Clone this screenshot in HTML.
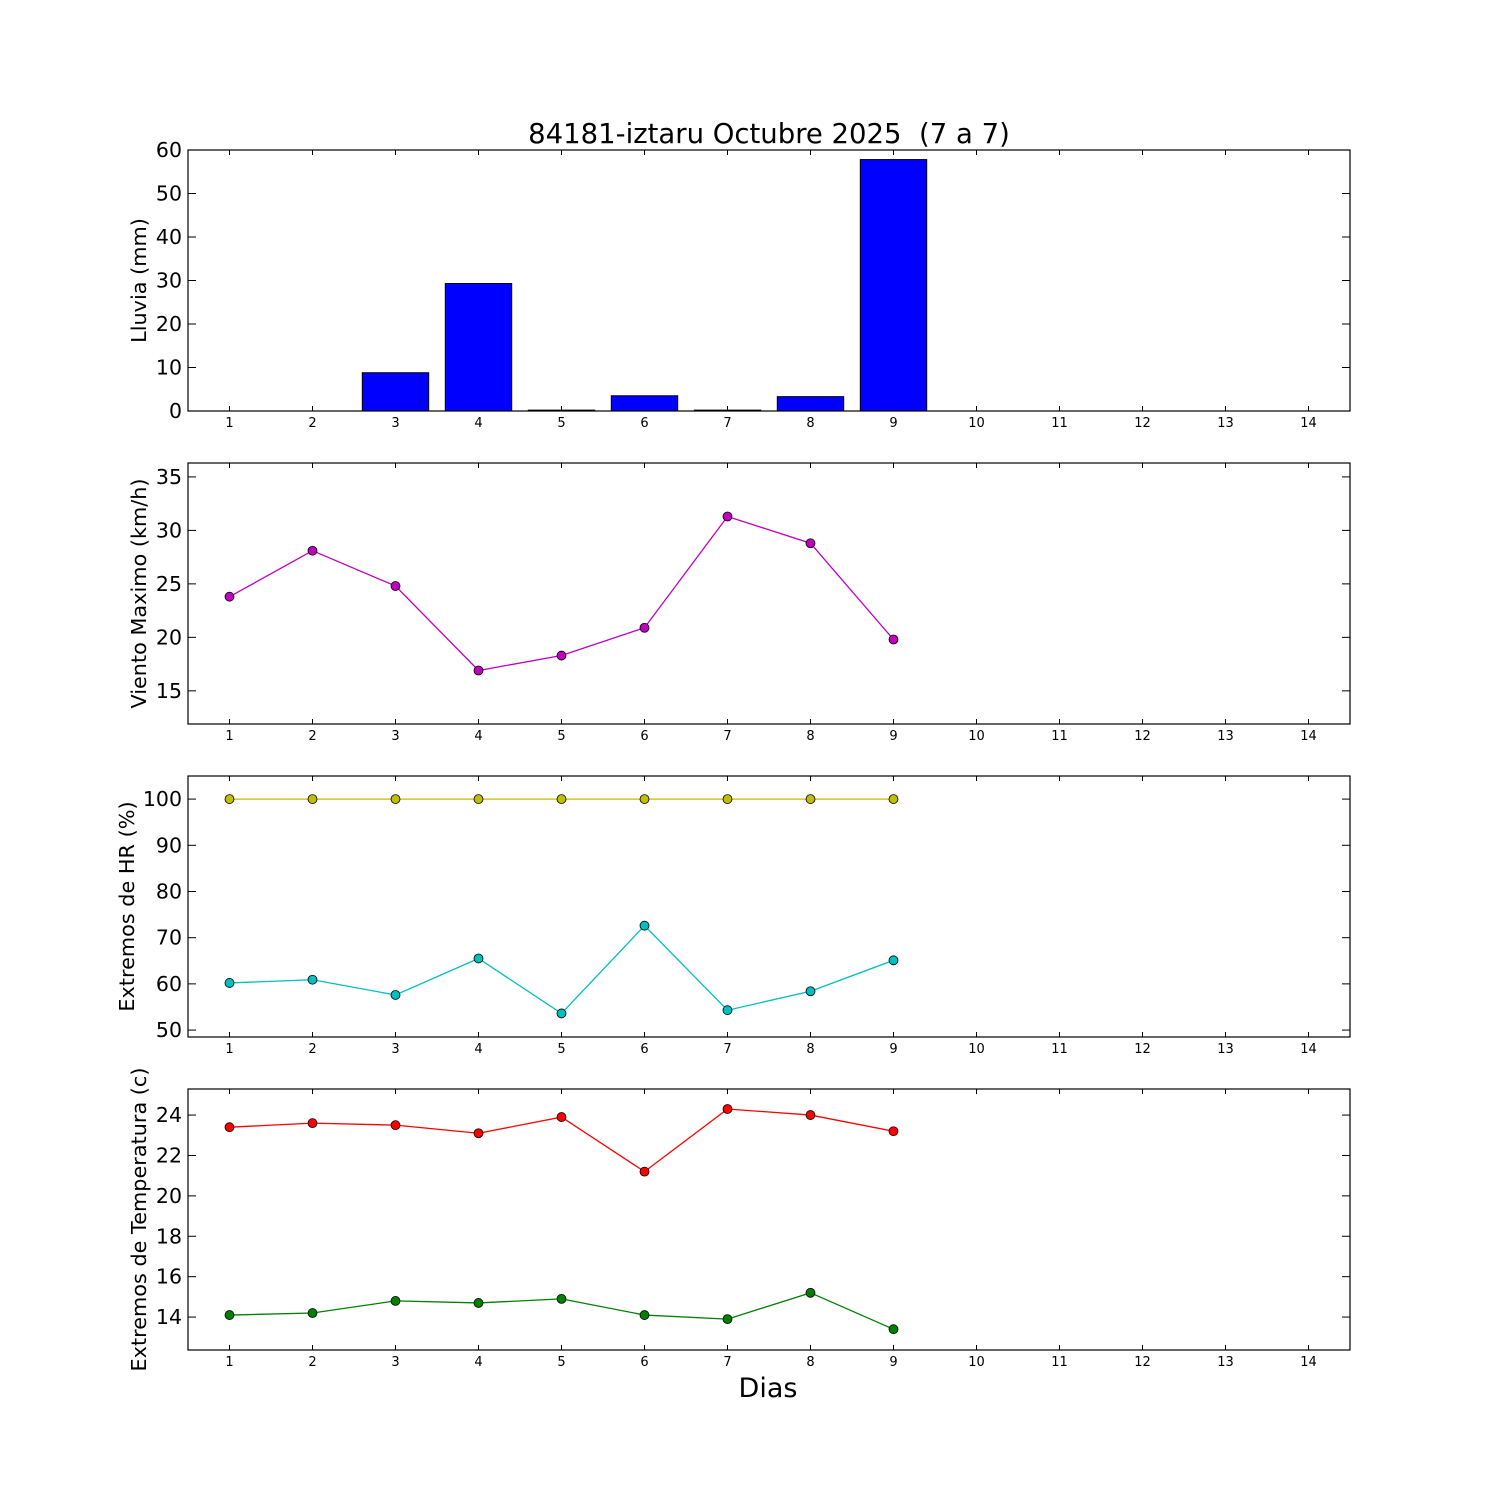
<!DOCTYPE html>
<html><head><meta charset="utf-8"><style>
body{margin:0;background:#fff}
svg{display:block;font-family:"DejaVu Sans","Liberation Sans",sans-serif}
</style></head><body>
<svg id="chart" width="1500" height="1500" xmlns="http://www.w3.org/2000/svg">
<rect width="1500" height="1500" fill="#fff"/>
<text x="769" y="143" font-size="27.5" text-anchor="middle" style="white-space:pre">84181-iztaru Octubre 2025  (7 a 7)</text>
<text x="768" y="1397" font-size="27" text-anchor="middle">Dias</text>
</svg>
<script>
const days = [1,2,3,4,5,6,7,8,9];
const rain = [0,0,8.8,29.3,0.2,3.5,0.2,3.3,57.8];
const wind = [23.8,28.1,24.8,16.9,18.3,20.9,31.3,28.8,19.8];
const hrMax = [100,100,100,100,100,100,100,100,100];
const hrMin = [60.2,60.9,57.6,65.5,53.6,72.6,54.3,58.4,65.1];
const tMax = [23.4,23.6,23.5,23.1,23.9,21.2,24.3,24.0,23.2];
const tMin = [14.1,14.2,14.8,14.7,14.9,14.1,13.9,15.2,13.4];
const xTicks = [1,2,3,4,5,6,7,8,9,10,11,12,13,14];
const rainTicks = [0,10,20,30,40,50,60];
const windTicks = [15,20,25,30,35];
const hrTicks = [50,60,70,80,90,100];
const tTicks = [14,16,18,20,22,24];

const svg = document.getElementById('chart');
const NS = 'http://www.w3.org/2000/svg';
const L = 188, R = 1350;
const x = d => L + (d - 0.5) / 14 * (R - L);
function mk(tag, attrs, parent){const e=document.createElementNS(NS,tag);for(const k in attrs)e.setAttribute(k,attrs[k]);(parent||svg).appendChild(e);return e;}

function panel(name, top, bottom, ymin, ymax, yTicks, label, lx){
  const g = mk('g',{});
  
  
  const y = v => bottom - (v - ymin) / (ymax - ymin) * (bottom - top);
  xTicks.forEach(t=>{
    mk('line',{x1:x(t),x2:x(t),y1:bottom,y2:bottom-5,stroke:'#000'},g);
    mk('line',{x1:x(t),x2:x(t),y1:top,y2:top+5,stroke:'#000'},g);
    const tx = mk('text',{x:x(t),y:bottom+16,'font-size':13,'text-anchor':'middle'},g);
    tx.textContent = t;
    
    
  });
  yTicks.forEach(t=>{
    mk('line',{x1:L,x2:L+8,y1:y(t),y2:y(t),stroke:'#000'},g);
    mk('line',{x1:R,x2:R-8,y1:y(t),y2:y(t),stroke:'#000'},g);
    const tx = mk('text',{x:L-6,y:y(t)+7,'font-size':20.5,'text-anchor':'end'},g);
    tx.textContent = t;
    
    
  });
  const cy=(top+bottom)/2;
  const lt = mk('text',{x:0,y:0,'font-size':20.8,'text-anchor':'middle',transform:`translate(${lx},${cy}) rotate(-90)`},g);
  lt.textContent = label;
  
  
  return {g,y,top,bottom};
}
function frame(p){mk('rect',{x:L,y:p.top,width:R-L,height:p.bottom-p.top,fill:'none',stroke:'#000','stroke-width':1.2},p.g);}
function series(p, vals, color, name){
  const pts = days.map((d,i)=>x(d)+','+p.y(vals[i])).join(' ');
  const pl = mk('polyline',{points:pts,fill:'none',stroke:color,'stroke-width':1.3},p.g);
  
  
  days.forEach((d,i)=>{
    const c = mk('circle',{cx:x(d),cy:p.y(vals[i]),r:4.5,fill:color,stroke:'#000','stroke-width':0.8},p.g);
    
    
  });
}

const p1 = panel('rain-panel',150,411,0,60,rainTicks,'Lluvia (mm)',146);
days.forEach((d,i)=>{
  const w=0.8/14*(R-L);
  const b = mk('rect',{x:x(d)-w/2,y:p1.y(rain[i]),width:w,height:p1.y(0)-p1.y(rain[i]),fill:'#0000ff',stroke:'#000','stroke-width':1},p1.g);
  
  
});
frame(p1);

const p2 = panel('wind-panel',463,724,11.9,36.3,windTicks,'Viento Maximo (km/h)',146);
series(p2, wind, '#bf00bf', 'wind');
frame(p2);

const p3 = panel('humidity-panel',776,1037,48.5,105,hrTicks,'Extremos de HR (%)',134);
series(p3, hrMax, '#bfbf00', 'hr-max');
series(p3, hrMin, '#00bfbf', 'hr-min');
frame(p3);

const p4 = panel('temperature-panel',1089,1350,12.37,25.29,tTicks,'Extremos de Temperatura (c)',146);
series(p4, tMax, '#ff0000', 'temp-max');
series(p4, tMin, '#008000', 'temp-min');
frame(p4);
</script>
</body></html>
